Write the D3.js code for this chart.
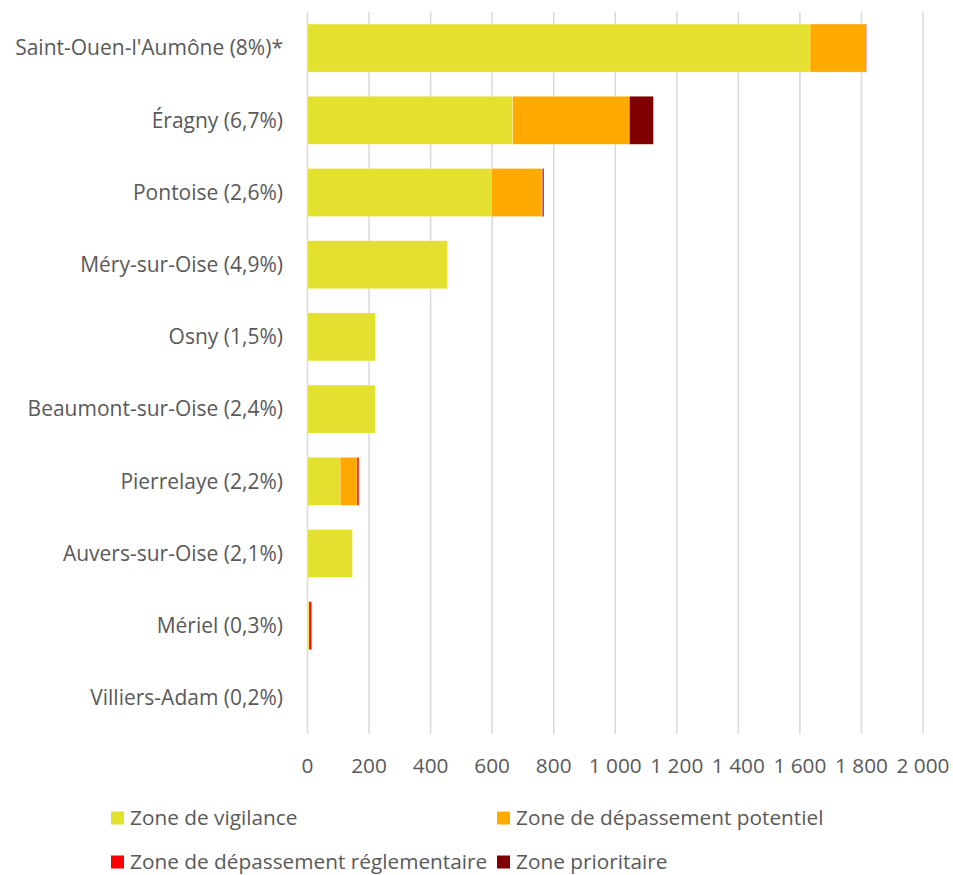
<!DOCTYPE html>
<html>
<head>
<meta charset="utf-8">
<script src="https://cdn.jsdelivr.net/npm/d3@7"></script>
<style>
  html, body { margin: 0; padding: 0; background: #fff; }
  svg text { font-family: "Open Sans", Lato, sans-serif; fill: #595959; }
</style>
</head>
<body>
<svg id="chart" width="953" height="875"></svg>
<script>
const categories = [
  "Saint-Ouen-l'Aumône (8%)*",
  "Éragny (6,7%)",
  "Pontoise (2,6%)",
  "Méry-sur-Oise (4,9%)",
  "Osny (1,5%)",
  "Beaumont-sur-Oise (2,4%)",
  "Pierrelaye (2,2%)",
  "Auvers-sur-Oise (2,1%)",
  "Mériel (0,3%)",
  "Villiers-Adam (0,2%)"
];
const seriesNames = [
  "Zone de vigilance",
  "Zone de dépassement potentiel",
  "Zone de dépassement réglementaire",
  "Zone prioritaire"
];
const vigilance     = [1633, 667, 597, 455, 221, 220, 106, 146, 5, 0];
const potentiel     = [180, 379, 165, 0, 0, 0, 55, 0, 0, 0];
const reglementaire = [3, 0, 2, 0, 0, 0, 6, 0, 8, 0];
const prioritaire   = [0, 78, 4, 0, 0, 0, 0, 0, 0, 0];
const xTicks = [0, 200, 400, 600, 800, 1000, 1200, 1400, 1600, 1800, 2000];
const colors = ["#e4e030", "#ffaa00", "#ff0000", "#800000"];

const svg = d3.select("#chart");
const margin = { left: 307.5, right: 953 - 923, top: 12, bottom: 875 - 734 };
const W = 953, H = 875;
const FS = "20.8px";

const x = d3.scaleLinear().domain([0, 2000]).range([margin.left, W - margin.right]);
const y = d3.scaleBand().domain(categories).range([margin.top, H - margin.bottom]).paddingInner(0.335).paddingOuter(0.167);

// gridlines
svg.append("g")
  .selectAll("line")
  .data(xTicks)
  .join("line")
  .attr("x1", d => x(d)).attr("x2", d => x(d))
  .attr("y1", margin.top).attr("y2", H - margin.bottom)
  .attr("stroke", "#d9d9d9").attr("stroke-width", 1.5);

// stacked data
const rows = categories.map((c, i) => ({
  cat: c, s0: vigilance[i], s1: potentiel[i], s2: reglementaire[i], s3: prioritaire[i]
}));
const stack = d3.stack().keys(["s0", "s1", "s2", "s3"]);
const stacked = stack(rows);

svg.append("g").selectAll("g")
  .data(stacked)
  .join("g")
  .attr("fill", (d, i) => colors[i])
  .selectAll("rect")
  .data(d => d)
  .join("rect")
  .attr("x", d => x(d[0]))
  .attr("width", d => Math.max(0, x(d[1]) - x(d[0])))
  .attr("y", d => y(d.data.cat))
  .attr("height", y.bandwidth())
  .attr("stroke", d => (d[1] - d[0]) > 0 ? "rgba(255,255,255,0.5)" : "none")
  .attr("stroke-width", 0.5);

// category labels
svg.append("g").selectAll("text")
  .data(categories)
  .join("text")
  .attr("x", 283)
  .attr("y", d => y(d) + y.bandwidth() / 2)
  .attr("dy", "0.35em")
  .attr("text-anchor", "end")
  .style("font-size", "21px")
  .text(d => d);

// x axis tick labels
svg.append("g").selectAll("text")
  .data(xTicks)
  .join("text")
  .attr("x", d => x(d))
  .attr("y", 766)
  .attr("dy", "0.35em")
  .attr("text-anchor", "middle")
  .style("font-size", FS)
  .text(d => d3.format(",")(d).replace(/,/g, " "));

// legend
const legendPos = [
  { sx: 111, ty: 818 },
  { sx: 497, ty: 818 },
  { sx: 111, ty: 862 },
  { sx: 497, ty: 862 }
];
const lg = svg.append("g").selectAll("g")
  .data(seriesNames)
  .join("g")
  .attr("transform", (d, i) => `translate(${legendPos[i].sx},${legendPos[i].ty})`);
lg.append("rect")
  .attr("x", 0).attr("y", -6.5)
  .attr("width", 13).attr("height", 13)
  .attr("fill", (d, i) => colors[i]);
lg.append("text")
  .attr("x", 19).attr("y", 0).attr("dy", "0.35em")
  .style("font-size", FS)
  .text(d => d);
</script>
</body>
</html>
